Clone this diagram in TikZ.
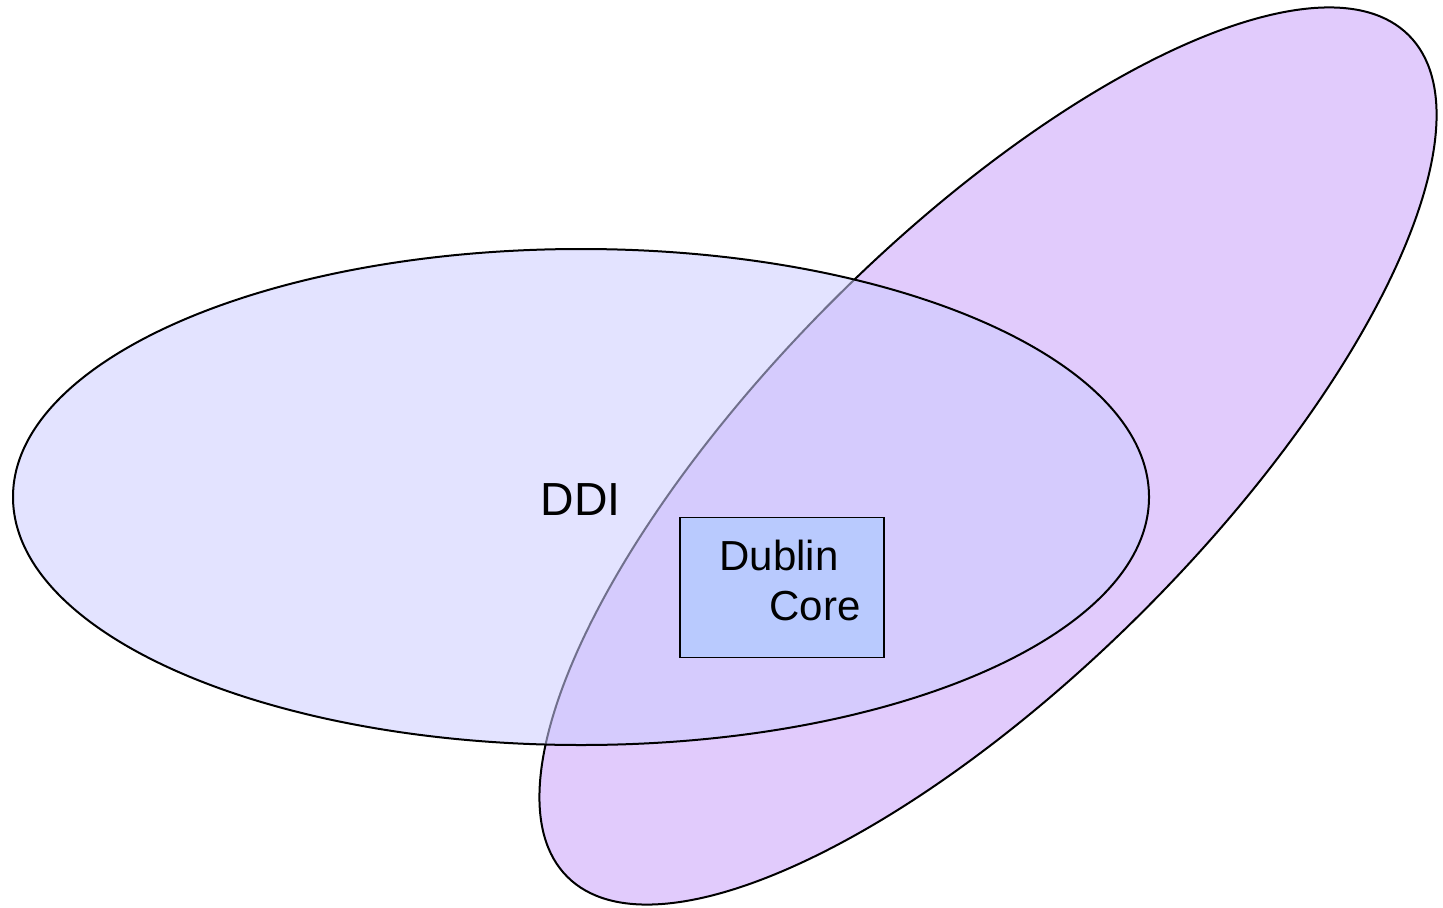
\documentclass[tikz,border=0pt]{standalone}
\usepackage{fontspec}
\setmainfont{Liberation Sans}
\definecolor{purplefill}{RGB}{225,203,252}
\definecolor{ddifill}{RGB}{204,204,255}
\definecolor{dcfill}{RGB}{185,202,254}
\begin{document}
\begin{tikzpicture}[x=0.5pt,y=0.5pt,
  shape line/.style={draw=black,line width=1pt},
  label text/.style={inner sep=0pt,font=\fontsize{21pt}{25pt}\selectfont}]
\useasboundingbox (0,0) rectangle (1443,907);
% tilted ellipse (drawn first, underneath)
\path[shape line,fill=purplefill,rotate around={45:(988,451)}]
  (988,451) ellipse [x radius=595, y radius=219.5];
% DDI ellipse on top, translucent fill
\path[shape line,fill=ddifill,fill opacity=0.55]
  (581,410) ellipse [x radius=568, y radius=248];
\node[label text,font=\fontsize{23.2pt}{28pt}\selectfont,anchor=base] (ddi) at (580.7,392) {DDI};
% Dublin Core box
\node[draw=black,line width=0.75pt,fill=dcfill,minimum width=102pt,minimum height=70pt,inner sep=0pt,anchor=south west] (dcbox) at (679,249) {};
\node[label text,anchor=base west] (dublin) at (719,336.3) {Dublin};
\node[label text,anchor=base west] (core) at (769,286.3) {Core};
\end{tikzpicture}
\end{document}
